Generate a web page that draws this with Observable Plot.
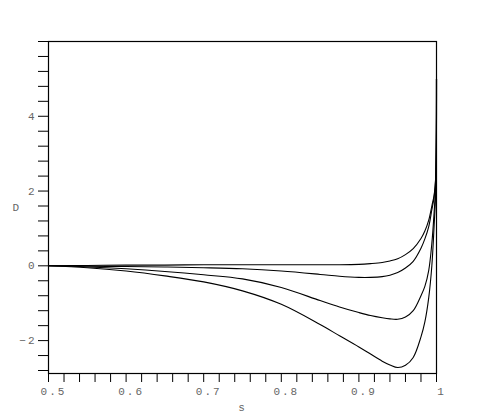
<!DOCTYPE html>
<html>
<head>
<meta charset="utf-8">
<script src="https://cdn.jsdelivr.net/npm/d3@7"></script>
<script src="https://cdn.jsdelivr.net/npm/@observablehq/plot@0.6"></script>
<style>
  body { margin: 0; background: #fff; }
</style>
</head>
<body>
<div id="chart"></div>
<script>
const sValues = [0.5, 0.55, 0.6, 0.65, 0.7, 0.75, 0.8, 0.85, 0.875, 0.9, 0.915, 0.93, 0.94, 0.95, 0.96, 0.97, 0.98, 0.985, 0.99, 0.994, 0.997, 0.999, 1.0];
const curve1 = [0, 0.01, 0.02, 0.02, 0.03, 0.03, 0.03, 0.03, 0.03, 0.04, 0.06, 0.09, 0.13, 0.19, 0.3, 0.46, 0.73, 0.93, 1.22, 1.6, 1.9, 2.4, 5.0];
const curve2 = [0, -0.01, -0.02, -0.03, -0.05, -0.08, -0.14, -0.23, -0.28, -0.31, -0.31, -0.29, -0.25, -0.18, -0.06, 0.12, 0.47, 0.72, 1.05, 1.5, 1.85, 2.35, 5.0];
const curve3 = [0, -0.03, -0.08, -0.15, -0.24, -0.35, -0.58, -0.93, -1.1, -1.25, -1.33, -1.39, -1.42, -1.43, -1.37, -1.2, -0.8, -0.55, -0.12, 0.6, 1.45, 2.2, 5.0];
const curve4 = [0, -0.05, -0.14, -0.27, -0.43, -0.67, -1.03, -1.57, -1.87, -2.17, -2.36, -2.55, -2.65, -2.72, -2.66, -2.45, -1.9, -1.5, -0.85, 0.0, 1.1, 2.0, 5.0];
const seriesList = [curve1, curve2, curve3, curve4];

const xTicks = d3.range(0, 26).map(i => +(0.5 + i * 0.02).toFixed(2));
const xLabels = [0.5, 0.6, 0.7, 0.8, 0.9, 1];
const yTicks = d3.range(0, 23).map(i => +(-2.8 + i * 0.4).toFixed(1));
const yLabels = [-2, 0, 2, 4];
const xLabel = "s";
const yLabel = "D";

const data = seriesList.flatMap((vals, k) => vals.map((d, i) => ({s: sValues[i], D: d, k})));

const chart = Plot.plot({
  width: 485,
  height: 415,
  marginLeft: 48,
  marginRight: 49,
  marginTop: 41,
  marginBottom: 42,
  style: {fontFamily: "'Liberation Mono', monospace", fontSize: "11px", letterSpacing: "2px", background: "#fff"},
  x: {domain: [0.5, 1], axis: null},
  y: {domain: [-2.88, 6], axis: null},
  marks: [
    Plot.axisX({ticks: xTicks, tickSize: 9, stroke: "#000", tickFormat: () => "", label: null}),
    Plot.axisX({ticks: xLabels, tickSize: 0, tickPadding: 14, fill: "#666", dx: 5,
      tickFormat: d => String(+d.toFixed(1)), label: null}),
    Plot.axisY({ticks: yTicks, tickSize: 10, tickPadding: 2, stroke: "#000", fill: "#666",
      tickFormat: d => yLabels.some(v => Math.abs(v - d) < 1e-9) ? (d < 0 ? "\u2212" + Math.abs(Math.round(d)) : String(Math.round(d))) : "", label: null}),
    Plot.frame({stroke: "#000", strokeWidth: 1.2}),
    Plot.line(data, {x: "s", y: "D", z: "k", stroke: "#000", strokeWidth: 1.1, curve: "catmull-rom"}),
    Plot.text([xLabel], {frameAnchor: "bottom", dy: 37, text: d => d, fill: "#666", fontSize: 11}),
    Plot.text([yLabel], {frameAnchor: "left", dx: -36, text: d => d, fill: "#666", fontSize: 11})
  ]
});
document.getElementById("chart").appendChild(chart);
</script>
</body>
</html>
